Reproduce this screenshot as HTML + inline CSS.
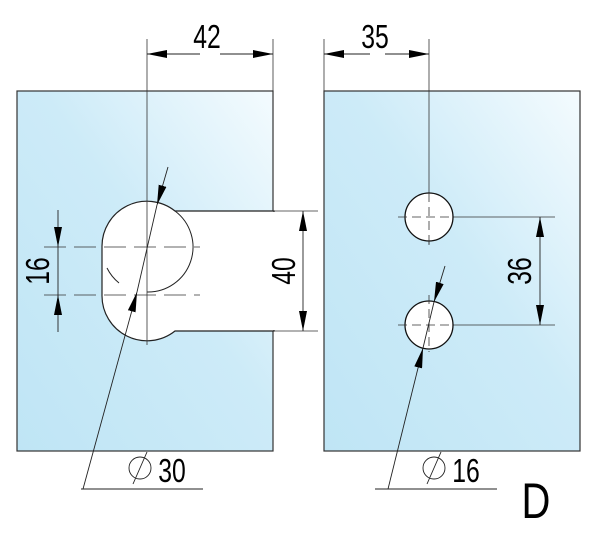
<!DOCTYPE html>
<html><head><meta charset="utf-8"><style>
html,body{margin:0;padding:0;background:#fff;}
svg{display:block;}
text{font-family:"Liberation Sans",sans-serif;fill:#000;}
</style></head><body>
<svg width="600" height="540" viewBox="0 0 600 540" xmlns="http://www.w3.org/2000/svg">
<defs>
<linearGradient id="g" x1="0" y1="1" x2="1" y2="0">
<stop offset="0" stop-color="#bfe5f5"/>
<stop offset="0.55" stop-color="#cdebf8"/>
<stop offset="1" stop-color="#f4fbfe"/>
</linearGradient>
<marker id="a" viewBox="0 0 20 8" refX="20" refY="4" markerWidth="20" markerHeight="8" markerUnits="userSpaceOnUse" orient="auto">
<path d="M0,0 L20,4 L0,8 Z" fill="#000"/>
</marker>
</defs>
<rect x="17" y="91" width="256" height="360" fill="url(#g)" stroke="#333" stroke-width="1.2"/>
<rect x="324" y="91" width="256" height="360" fill="url(#g)" stroke="#333" stroke-width="1.2"/>
<path d="M175,211 L274,211 L274,331 L175,331 A45,45 0 0 1 102,295 L102,247 A45,45 0 0 1 175,211 Z" fill="#fff" stroke="#222" stroke-width="1.2"/>
<rect x="272" y="212" width="3" height="118" fill="#fff"/>
<path d="M175,211 A45,45 0 0 1 147,292" fill="none" stroke="#222" stroke-width="1"/>
<path d="M107,268 A45,45 0 0 0 119,283" fill="none" stroke="#222" stroke-width="1"/>
<g stroke="#333" stroke-width="0.8" fill="none">
<line x1="147" y1="39" x2="147" y2="345"/>
<line x1="273" y1="39" x2="273" y2="91"/>
<line x1="44" y1="247" x2="200" y2="247" stroke-dasharray="22,8"/>
<line x1="44" y1="295" x2="200" y2="295" stroke-dasharray="22,8"/>
<line x1="273" y1="211" x2="318" y2="211"/>
<line x1="273" y1="331" x2="318" y2="331"/>
<line x1="324" y1="39" x2="324" y2="91"/>
<line x1="429" y1="39" x2="429" y2="245"/>
<line x1="453" y1="217" x2="555" y2="217"/>
<line x1="453" y1="325" x2="555" y2="325"/>
</g>
<circle cx="429" cy="217" r="24" fill="#fff" stroke="#111" stroke-width="1.3"/>
<circle cx="429" cy="325" r="24" fill="#fff" stroke="#111" stroke-width="1.3"/>
<g stroke="#333" stroke-width="0.8" fill="none">
<line x1="398" y1="217" x2="453" y2="217" stroke-dasharray="9,5"/>
<line x1="429" y1="193" x2="429" y2="248" stroke-dasharray="9,5"/>
<line x1="398" y1="325" x2="453" y2="325" stroke-dasharray="9,5"/>
<line x1="429" y1="295" x2="429" y2="352" stroke-dasharray="9,5"/>
</g>
<g stroke="#222" stroke-width="0.9" fill="none">
<line x1="200" y1="54" x2="147" y2="54" marker-end="url(#a)"/>
<line x1="220" y1="54" x2="273" y2="54" marker-end="url(#a)"/>
<line x1="370" y1="54" x2="324" y2="54" marker-end="url(#a)"/>
<line x1="385" y1="54" x2="429" y2="54" marker-end="url(#a)"/>
<line x1="58" y1="210" x2="58" y2="247" marker-end="url(#a)"/>
<line x1="58" y1="332" x2="58" y2="295" marker-end="url(#a)"/>
<line x1="58" y1="247" x2="58" y2="295"/>
<line x1="303" y1="271" x2="303" y2="211" marker-end="url(#a)"/>
<line x1="303" y1="271" x2="303" y2="331" marker-end="url(#a)"/>
<line x1="540" y1="271" x2="540" y2="217" marker-end="url(#a)"/>
<line x1="540" y1="271" x2="540" y2="325" marker-end="url(#a)"/>
<line x1="168" y1="167" x2="157" y2="205" marker-end="url(#a)"/>
<line x1="83" y1="489" x2="137" y2="292" marker-end="url(#a)"/>
<line x1="157" y1="205" x2="137" y2="292"/>
<line x1="81" y1="489" x2="203" y2="489"/>
<line x1="445" y1="266" x2="434" y2="302" marker-end="url(#a)"/>
<line x1="388" y1="489" x2="423" y2="348" marker-end="url(#a)"/>
<line x1="434" y1="302" x2="423" y2="348"/>
<line x1="375" y1="489" x2="497" y2="489"/>
<circle cx="140" cy="468" r="11"/>
<line x1="133" y1="484" x2="147" y2="452"/>
<circle cx="434" cy="468" r="11"/>
<line x1="427" y1="484" x2="441" y2="452"/>
</g>
<g font-size="33" text-anchor="middle">
<text transform="translate(207,48) scale(0.75,1)">42</text>
<text transform="translate(375,48) scale(0.75,1)">35</text>
<text transform="translate(172,482) scale(0.75,1)">30</text>
<text transform="translate(466,482) scale(0.75,1)">16</text>
<text transform="translate(49,271) rotate(-90) scale(0.75,1)">16</text>
<text transform="translate(295,271) rotate(-90) scale(0.75,1)">40</text>
<text transform="translate(531,271) rotate(-90) scale(0.75,1)">36</text>
<text transform="translate(536,518) scale(0.8,1)" font-size="50">D</text>
</g>
</svg>
</body></html>
